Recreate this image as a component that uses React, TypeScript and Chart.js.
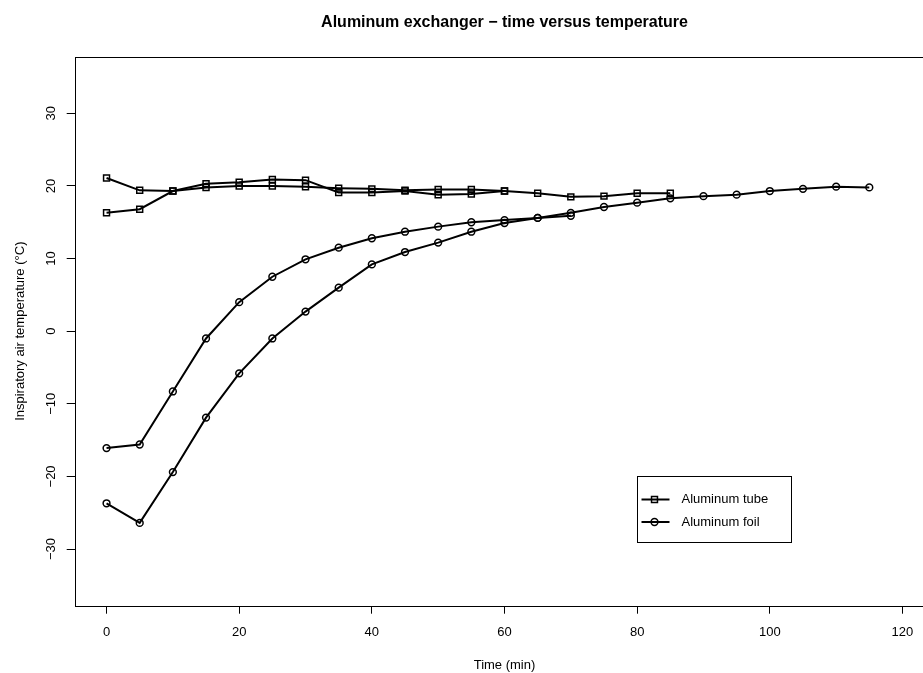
import React, { useEffect, useRef } from "react";
import { Chart, registerables } from "chart.js";

Chart.register(...registerables);

// ---- Data ----
const tubeRun1Times = [0, 5, 10, 15, 20, 25, 30, 35, 40, 45, 50, 55, 60, 65, 70, 75, 80, 85];
const tubeRun1Temps = [21.1, 19.4, 19.3, 19.8, 20.0, 20.0, 19.9, 19.7, 19.6, 19.4, 19.5, 19.5, 19.3, 19.0, 18.5, 18.6, 19.0, 19.0];

const tubeRun2Times = [0, 5, 10, 15, 20, 25, 30, 35, 40, 45, 50, 55, 60];
const tubeRun2Temps = [16.3, 16.8, 19.3, 20.3, 20.5, 20.9, 20.8, 19.1, 19.1, 19.3, 18.8, 18.9, 19.3];

const foilRun1Times = [0, 5, 10, 15, 20, 25, 30, 35, 40, 45, 50, 55, 60, 65, 70];
const foilRun1Temps = [-16.1, -15.6, -8.3, -1.0, 4.0, 7.5, 9.9, 11.5, 12.8, 13.7, 14.4, 15.0, 15.3, 15.6, 15.9];

const foilRun2Times = [0, 5, 10, 15, 20, 25, 30, 35, 40, 45, 50, 55, 60, 65, 70, 75, 80, 85, 90, 95, 100, 105, 110, 115];
const foilRun2Temps = [-23.7, -26.4, -19.4, -11.9, -5.8, -1.0, 2.7, 6.0, 9.2, 10.9, 12.2, 13.7, 14.9, 15.6, 16.3, 17.1, 17.7, 18.3, 18.6, 18.8, 19.3, 19.6, 19.9, 19.8];

const xTickValues = [0, 20, 40, 60, 80, 100, 120];
const yTickValues = [-30, -20, -10, 0, 10, 20, 30];
const legendLabels = ["Aluminum tube", "Aluminum foil"];
const legendAnchor = { x: 80, y: -20 };

const chartTitle = "Aluminum exchanger \u2212 time versus temperature";
const xTitle = "Time (min)";
const yTitle = "Inspiratory air temperature (\u00B0C)";

const FONT = "'Liberation Sans', Arial, Helvetica, sans-serif";

const toPoints = (xs: number[], ys: number[]) => xs.map((x, i) => ({ x, y: ys[i] }));
const fmt = (v: number) => (v < 0 ? "\u2212" + Math.abs(v) : String(v));

const SQ_R = 4.2;
const CI_R = 3.4;

function drawMarker(ctx: CanvasRenderingContext2D, style: string, x: number, y: number) {
  ctx.beginPath();
  if (style === "rect") {
    const s = Math.SQRT1_2 * SQ_R;
    ctx.rect(x - s, y - s, 2 * s, 2 * s);
  } else {
    ctx.arc(x, y, CI_R, 0, Math.PI * 2);
  }
  ctx.stroke();
}

const boxLegendPlugin = {
  id: "boxLegend",
  afterDraw(chart: any) {
    const { ctx, chartArea: a, scales } = chart;
    ctx.save();
    ctx.strokeStyle = "#000";
    ctx.lineWidth = 1;
    const l = Math.round(a.left) + 0.5;
    const t = Math.round(a.top) + 0.5;
    const r = Math.round(a.right) + 0.5;
    const b = Math.round(a.bottom) + 0.5;
    ctx.strokeRect(l, t, r - l, b - t);

    // legend box, anchored at data coordinates through the scales
    const lx = Math.round(scales.x.getPixelForValue(legendAnchor.x)) + 0.5;
    const ly = Math.round(scales.y.getPixelForValue(legendAnchor.y)) + 0.5;
    const w = 154;
    const h = 66;
    ctx.fillStyle = "#fff";
    ctx.fillRect(lx, ly, w, h);
    ctx.strokeRect(lx, ly, w, h);
    const styles = ["rect", "circle"];
    ctx.font = `13px ${FONT}`;
    ctx.textBaseline = "middle";
    ctx.textAlign = "left";
    legendLabels.forEach((lab, i) => {
      const yy = ly + 23 + i * 22.5;
      ctx.lineWidth = 2;
      ctx.beginPath();
      ctx.moveTo(lx + 4, yy);
      ctx.lineTo(lx + 32, yy);
      ctx.stroke();
      ctx.lineWidth = 1.5;
      drawMarker(ctx, styles[i], lx + 17, yy);
      ctx.fillStyle = "#000";
      ctx.fillText(lab, lx + 44, yy);
    });
    ctx.restore();
  },
};

export default function App() {
  const ref = useRef<HTMLCanvasElement | null>(null);

  useEffect(() => {
    if (!ref.current) return;
    const mk = (label: string, xs: number[], ys: number[], style: string) => ({
      label,
      data: toPoints(xs, ys),
      borderColor: "#000",
      borderWidth: 2,
      backgroundColor: "rgba(0,0,0,0)",
      pointStyle: style,
      pointRadius: style === "rect" ? SQ_R : CI_R,
      pointBorderWidth: 1.5,
      pointBorderColor: "#000",
      pointBackgroundColor: "rgba(0,0,0,0)",
      tension: 0,
      fill: false,
    });

    const tickFont = { family: FONT, size: 13 };
    const grid = {
      display: true,
      drawOnChartArea: false,
      drawTicks: true,
      tickLength: 8,
      color: "#000",
      lineWidth: 1,
    };

    const chart = new Chart(ref.current, {
      type: "line",
      data: {
        datasets: [
          mk(legendLabels[0], tubeRun1Times, tubeRun1Temps, "rect"),
          mk(legendLabels[0], tubeRun2Times, tubeRun2Temps, "rect"),
          mk(legendLabels[1], foilRun1Times, foilRun1Temps, "circle"),
          mk(legendLabels[1], foilRun2Times, foilRun2Temps, "circle"),
        ],
      },
      options: {
        animation: false,
        responsive: false,
        devicePixelRatio: 1,
        layout: { padding: { left: 0, right: 5, top: 0, bottom: 0 } },
        plugins: {
          legend: { display: false },
          tooltip: { enabled: false },
          title: {
            display: true,
            text: chartTitle,
            fullSize: false,
            color: "#000",
            font: { family: FONT, size: 16, weight: "bold" },
            padding: { top: 12.8, bottom: 24.7 },
          },
        },
        scales: {
          x: {
            type: "linear",
            min: -4.8,
            max: 124.8,
            afterBuildTicks: (s: any) => {
              s.ticks = xTickValues.map((v) => ({ value: v }));
            },
            afterFit: (s: any) => {
              s.height = 67.3;
            },
            ticks: {
              autoSkip: false,
              maxRotation: 0,
              minRotation: 0,
              padding: 11.3,
              color: "#000",
              font: tickFont,
              callback: (v: any) => fmt(Number(v)),
            },
            grid,
            border: { display: false },
            title: {
              display: true,
              text: xTitle,
              color: "#000",
              font: tickFont,
              padding: { top: 0, bottom: 0 },
            },
          },
          y: {
            type: "linear",
            min: -37.8,
            max: 37.8,
            afterBuildTicks: (s: any) => {
              s.ticks = yTickValues.map((v) => ({ value: v }));
            },
            afterFit: (s: any) => {
              s.width = 74.7;
            },
            ticks: {
              autoSkip: false,
              minRotation: 90,
              maxRotation: 90,
              crossAlign: "center",
              padding: 4.5,
              color: "#000",
              font: tickFont,
              callback: (v: any) => fmt(Number(v)),
            },
            grid,
            border: { display: false },
            title: {
              display: true,
              text: yTitle,
              color: "#000",
              font: tickFont,
              padding: { top: 13, bottom: 0 },
            },
          },
        },
      } as any,
      plugins: [boxLegendPlugin],
    } as any);
    return () => chart.destroy();
  }, []);

  return (
    <div
      style={{
        position: "fixed",
        left: 0,
        top: 0,
        width: 923,
        height: 673,
        overflow: "hidden",
        background: "#fff",
      }}
    >
      <canvas ref={ref} width={940} height={673} style={{ display: "block" }} />
    </div>
  );
}
